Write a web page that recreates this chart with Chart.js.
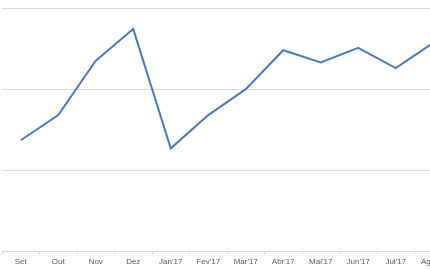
<!DOCTYPE html>
<html>
<head>
<meta charset="utf-8">
<script src="https://cdn.jsdelivr.net/npm/chart.js@4/dist/chart.umd.min.js"></script>
<style>
html,body{margin:0;padding:0;background:#fff;overflow:hidden;width:430px;height:270px;}
#wrap{position:absolute;left:0;top:0;width:462px;height:270px;}
</style>
</head>
<body>
<div id="wrap"><canvas id="c" width="462" height="270"></canvas></div>
<script>
const categories = ["Set","Out","Nov","Dez","Jan'17","Fev'17","Mar'17","Abr'17","Mai'17","Jun'17","Jul'17","Ago'17"];
const seriesValues = [137,168,235,274,127,168,200,248,233,251,226,257];
const yMin = 0, yMax = 300, yStep = 100;

new Chart(document.getElementById('c'), {
  type: 'line',
  data: {
    labels: categories,
    datasets: [{
      data: seriesValues,
      borderColor: '#4f7bb5',
      borderWidth: 2,
      pointRadius: 0,
      tension: 0,
      fill: false
    }]
  },
  options: {
    responsive: false,
    animation: false,
    devicePixelRatio: 1,
    layout: { padding: { left: 2, right: 10, top: 8, bottom: 0 } },
    plugins: { legend: { display: false }, tooltip: { enabled: false } },
    scales: {
      x: {
        offset: true,
        grid: { offset: true, drawOnChartArea: false, drawTicks: true, tickLength: 3, color: '#d9d9d9' },
        border: { display: true, color: '#d9d9d9', width: 1 },
        ticks: { color: '#595959', font: { family: 'Liberation Sans', size: 8 }, padding: 3, maxRotation: 0, autoSkip: false }
      },
      y: {
        min: yMin, max: yMax,
        grid: { color: '#d9d9d9', drawTicks: false, lineWidth: 1 },
        border: { display: false },
        ticks: { display: false, stepSize: yStep }
      }
    }
  }
});
</script>
</body>
</html>
